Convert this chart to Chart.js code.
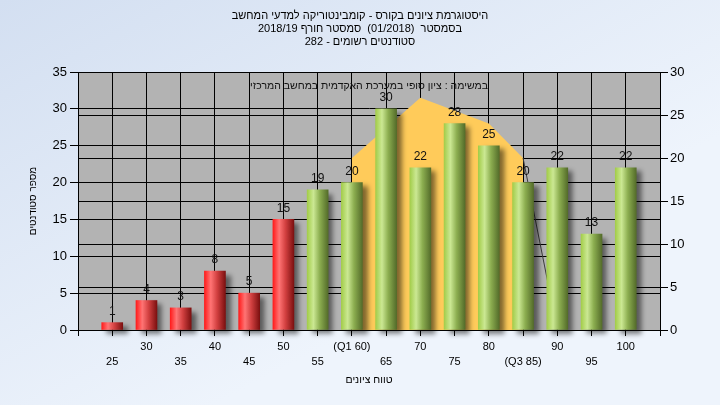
<!DOCTYPE html>
<html>
<head>
<meta charset="utf-8">
<script src="https://cdn.jsdelivr.net/npm/chart.js@4.4.1/dist/chart.umd.min.js"></script>
<style>
  html, body { margin: 0; padding: 0; background: #e4edf8; }
  canvas { display: block; }
</style>
</head>
<body>
<canvas id="grafico" width="720" height="405" dir="rtl"></canvas>
<script>
const FONT = "'Liberation Sans', 'DejaVu Sans', sans-serif";

// ציונים (מרכז כל עמודה) ומספר הסטודנטים בכל טווח
const scores = [25, 30, 35, 40, 45, 50, 55, 60, 65, 70, 75, 80, 85, 90, 95, 100];
const students = [1, 4, 3, 8, 5, 15, 19, 20, 30, 22, 28, 25, 20, 22, 13, 22];
const tickLabels = ['25', '30', '35', '40', '45', '50', '55', '(Q1 60)', '65', '70', '75', '80', '(Q3 85)', '90', '95', '100'];

// השטח הצהוב (ציר ימני) והקו הדק
const areaX = [60, 70, 80, 85];
const areaY = [20, 27, 24, 20];
const lineX = [85, 90];
const lineY = [20, 0];

const titleLines = [
    'היסטוגרמת ציונים בקורס - קומבינטוריקה למדעי המחשב',
    'בסמסטר  (01/2018)  סמסטר חורף 2018/19',
    'סטודנטים רשומים - 282'
];
const noteText = 'במשימה : ציון סופי במערכת האקדמית במחשב המרכזי';

const BAR_W = 21;

function barGradient(c) {
    const chart = c.chart;
    if (!chart.chartArea) return '#cc3333';
    const x = chart.scales.x.getPixelForValue(scores[c.dataIndex]);
    const g = chart.ctx.createLinearGradient(x - BAR_W / 2, 0, x + BAR_W / 2, 0);
    if (scores[c.dataIndex] < 55) {
        g.addColorStop(0, '#ff1c1c');
        g.addColorStop(0.3, '#ff7474');
        g.addColorStop(0.6, '#d24040');
        g.addColorStop(1, '#7c1010');
    } else {
        g.addColorStop(0, '#a3cd4a');
        g.addColorStop(0.3, '#cbe893');
        g.addColorStop(0.6, '#8cae50');
        g.addColorStop(1, '#546c2a');
    }
    return g;
}

const fondo = {
    id: 'fondo',
    beforeDraw(chart) {
        const { ctx, width, height, chartArea: a } = chart;
        ctx.save();
        const g = ctx.createLinearGradient(0, 0, width * 0.3, height);
        g.addColorStop(0, '#d3dff1');
        g.addColorStop(1, '#eef4fc');
        ctx.fillStyle = g;
        ctx.fillRect(0, 0, width, height);
        ctx.fillStyle = '#b3b3b3';
        ctx.fillRect(a.left, a.top, a.right - a.left, a.bottom - a.top);
        ctx.restore();
    }
};

const sombra = {
    id: 'sombra',
    beforeDatasetDraw(chart, args) {
        if (args.index !== 0) return;
        const ctx = chart.ctx;
        ctx.save();
        ctx.shadowColor = 'rgba(0,0,0,0.5)';
        ctx.shadowBlur = 5;
        ctx.shadowOffsetX = 5;
        ctx.shadowOffsetY = 4;
    },
    afterDatasetDraw(chart, args) {
        if (args.index !== 0) return;
        chart.ctx.restore();
    }
};

const etiquetas = {
    id: 'etiquetas',
    afterDatasetsDraw(chart) {
        const ctx = chart.ctx;
        const a = chart.chartArea;
        ctx.save();
        ctx.font = '12px ' + FONT;
        ctx.fillStyle = '#111';
        ctx.textAlign = 'center';
        ctx.textBaseline = 'middle';
        chart.getDatasetMeta(0).data.forEach((bar, i) => {
            ctx.fillText(String(students[i]), bar.x, bar.y - 11);
        });
        ctx.font = '10.5px ' + FONT;
        ctx.fillText(noteText, (a.left + a.right) / 2, a.top + 14);
        ctx.restore();
    }
};

new Chart(document.getElementById('grafico'), {
    type: 'bar',
    data: {
        datasets: [{
            type: 'bar',
            data: scores.map((s, i) => ({ x: s, y: students[i] })),
            backgroundColor: barGradient,
            borderWidth: 0,
            barThickness: BAR_W,
            yAxisID: 'y',
            clip: false,
            order: 0
        }, {
            type: 'line',
            data: lineX.map((x, i) => ({ x, y: lineY[i] })),
            borderColor: '#3c3c3c',
            borderWidth: 1,
            pointRadius: 0,
            fill: false,
            yAxisID: 'y1',
            order: 1
        }, {
            type: 'line',
            data: areaX.map((x, i) => ({ x, y: areaY[i] })),
            backgroundColor: '#ffcb5a',
            borderWidth: 0,
            pointRadius: 0,
            fill: 'origin',
            tension: 0,
            yAxisID: 'y1',
            order: 2
        }]
    },
    options: {
        responsive: false,
        animation: false,
        devicePixelRatio: 1,
        layout: { padding: 0 },
        plugins: {
            legend: { display: false },
            tooltip: { enabled: false },
            title: {
                display: true,
                text: titleLines,
                color: '#000',
                font: { family: FONT, size: 11, weight: 'normal', lineHeight: '13px' },
                padding: { top: 9, bottom: 24 }
            }
        },
        scales: {
            x: {
                type: 'linear',
                min: 20,
                max: 105,
                offset: false,
                afterFit: (s) => { s.height = 75; },
                grid: { offset: false, color: '#000', lineWidth: 1, tickLength: 6, tickColor: '#000' },
                border: { color: '#000' },
                ticks: {
                    stepSize: 5,
                    autoSkip: false,
                    maxRotation: 0,
                    padding: 3,
                    color: '#000',
                    font: { family: FONT, size: 11, lineHeight: '15px' },
                    callback: (v) => {
                        const i = scores.indexOf(v);
                        if (i < 0) return '';
                        return i % 2 ? [tickLabels[i], ''] : ['', tickLabels[i]];
                    }
                },
                title: {
                    display: true,
                    text: 'טווח ציונים',
                    color: '#000',
                    font: { family: FONT, size: 10.5 },
                    padding: { top: 0, bottom: 19 }
                }
            },
            y: {
                position: 'left',
                min: 0,
                max: 35,
                afterFit: (s) => { s.width = 78; },
                grid: { color: '#000', lineWidth: 1, tickLength: 8 },
                border: { color: '#000' },
                ticks: {
                    stepSize: 5,
                    padding: 3,
                    color: '#000',
                    font: { family: FONT, size: 13 }
                },
                title: {
                    display: true,
                    text: 'מספר סטודנטים',
                    color: '#000',
                    font: { family: FONT, size: 10 },
                    padding: { top: 27, bottom: 0 }
                }
            },
            y1: {
                position: 'right',
                min: 0,
                max: 30,
                afterFit: (s) => { s.width = 60; },
                grid: { color: '#000', lineWidth: 1, tickLength: 8 },
                border: { color: '#000' },
                ticks: {
                    stepSize: 5,
                    padding: 2,
                    color: '#000',
                    font: { family: FONT, size: 13 }
                }
            }
        }
    },
    plugins: [fondo, sombra, etiquetas]
});
</script>
</body>
</html>
